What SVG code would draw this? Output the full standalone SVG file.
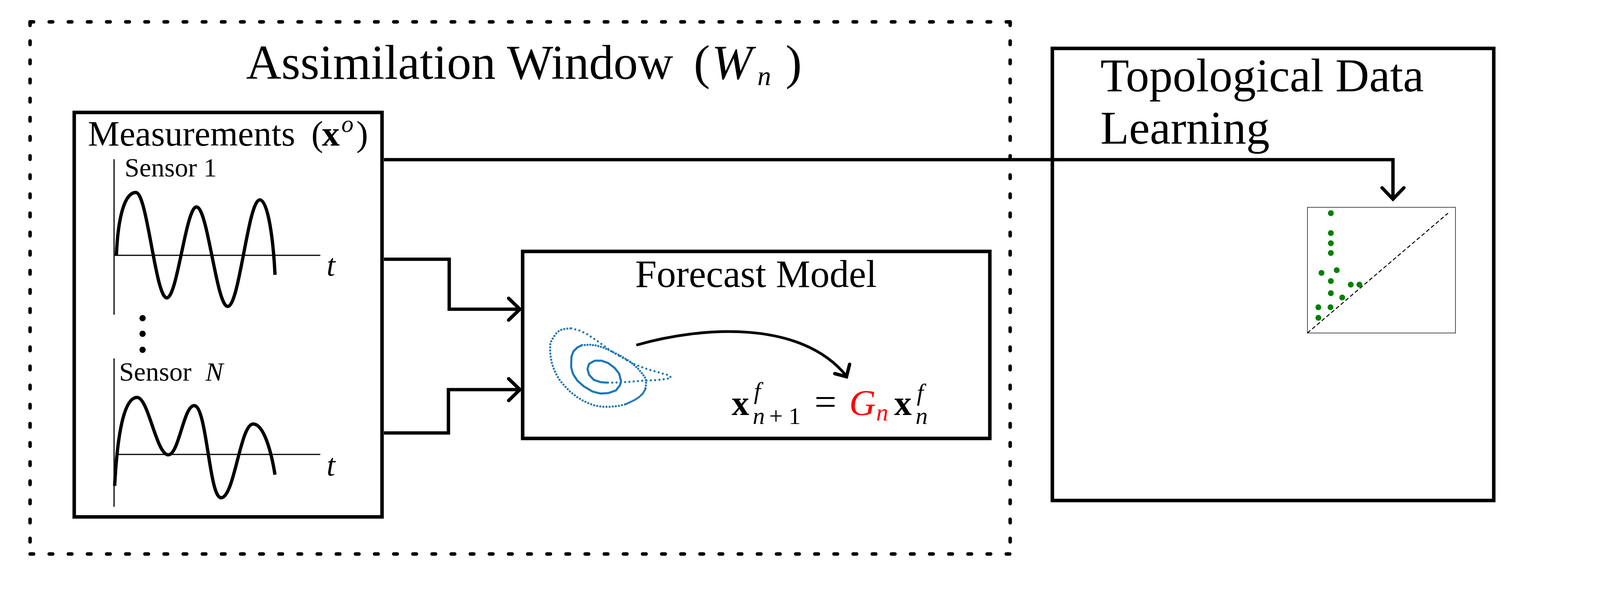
<svg xmlns="http://www.w3.org/2000/svg" width="4917" height="1542" viewBox="0 0 4917 1542">
<style>
text { font-family: "Liberation Serif", "Times New Roman", serif; fill: #000; }
.box { fill: none; stroke: #000; stroke-width: 9; }
.dotted { fill: none; stroke: #000; stroke-width: 9; stroke-linecap: round; stroke-dasharray: 9 40; }
.axis { fill: none; stroke: #000; stroke-width: 3; }
.wave { fill: none; stroke: #000; stroke-width: 8.5; stroke-linejoin: round; }
.conn { fill: none; stroke: #000; stroke-width: 8.7; }
.head { fill: none; stroke: #000; stroke-width: 8.7; stroke-linecap: round; stroke-linejoin: miter; }
.attr { fill: none; stroke: #1f77b4; stroke-width: 5.5; stroke-linecap: round; stroke-linejoin: round; }
.pt { fill: #008000; }
</style>
<rect width="4917" height="1542" fill="#fff"/>

<g id="assimilation-window">
  <line class="dotted" x1="77" y1="56" x2="2586" y2="56"/>
  <line class="dotted" x1="77" y1="56" x2="77" y2="1419"/>
  <line class="dotted" x1="2586" y1="56" x2="2586" y2="1419"/>
  <line class="dotted" x1="77" y1="1419" x2="2586" y2="1419"/>
  <text x="630" y="202" font-size="125">Assimilation Window <tspan x="1776">(</tspan><tspan x="1822" font-style="italic">W</tspan><tspan x="1939" dy="16" font-size="70" font-style="italic">n</tspan><tspan x="2011" dy="-16">)</tspan></text>
</g>

<g id="measurements">
  <rect class="box" x="190" y="288" width="788" height="1036"/>
  <text x="225" y="373" font-size="91">Measurements <tspan x="797">(</tspan><tspan x="824" font-weight="bold">x</tspan><tspan x="874" dy="-35" font-size="62" font-style="italic">o</tspan><tspan x="912" dy="35">)</tspan></text>
  <text x="319" y="452" font-size="68">Sensor 1</text>
  <line class="axis" x1="292" y1="408" x2="292" y2="806"/>
  <line class="axis" x1="293" y1="654" x2="820" y2="654"/>
  <path class="wave" d="M298,653 C302,560 318,493 348,493 C377,493 398,763 427,763 C454,763 476,530 503,530 C532,530 554,785 583,785 C613,785 635,512 665,512 C687,512 700,620 704,704"/>
  <text x="836" y="706" font-size="80" font-style="italic">t</text>
  <circle cx="365" cy="815" r="8"/>
  <circle cx="365" cy="855" r="8"/>
  <circle cx="365" cy="896" r="8"/>
  <text x="305" y="975" font-size="68">Sensor <tspan x="526" font-style="italic">N</tspan></text>
  <line class="axis" x1="292" y1="918" x2="292" y2="1298"/>
  <line class="axis" x1="296" y1="1164" x2="820" y2="1164"/>
  <path class="wave" d="M293.5,1244.5 C300,1120 316,1018 351,1018 C380,1018 400,1165 431,1165 C458,1165 470,1039 497,1039 C530,1039 535,1275 566,1275 C600,1275 615,1086 648,1086 C676,1086 695,1160 704,1216"/>
  <text x="836" y="1218" font-size="80" font-style="italic">t</text>
</g>

<g id="forecast-model">
  <rect class="box" x="1338" y="644" width="1196" height="479" stroke-width="8"/>
  <text x="1626" y="735" font-size="99">Forecast Model</text>
  <path class="attr" stroke-dasharray="0 2.5" d="M1553,980 L1538,979 L1520,973 L1508,960 L1504,945 L1508,932 L1522,924 L1540,924 L1557,930 L1573,942 L1585,957 L1590,977 L1587,987 L1577,1000 L1557,1007 L1537,1008 L1517,1003 L1495,990 L1478,975 L1467,958 L1462,940 L1463,913 L1468,900 L1478,890 L1490,884"/>
  <path class="attr" stroke-dasharray="0 7" d="M1490,884 L1510,883 L1527,885 L1547,891 L1565,900 L1580,907 L1598,917 L1615,928 L1632,943 L1645,958 L1653,970 L1654,983 L1652,997"/>
  <path class="attr" stroke-dasharray="0 5" d="M1652,997 L1645,1009 L1635,1018 L1622,1026 L1600,1036"/>
  <path class="attr" stroke-dasharray="0 8" d="M1600,1036 L1583,1040 L1560,1042 L1543,1042 L1523,1039 L1507,1033 L1492,1026 L1477,1017 L1458,1002 L1445,988 L1433,974 L1423,957 L1417,943 L1412,927 L1409,910 L1408,894 L1409,878 L1415,867 L1423,855 L1433,846 L1449,842 L1462,841"/>
  <path class="attr" stroke-dasharray="0 11" d="M1462,841 L1482,846 L1503,856 L1527,872 L1538,880 L1560,896 L1580,909 L1607,924 L1625,933 L1647,942 L1662,947 L1680,952 L1697,957 L1712,961 L1718,967 L1713,969 L1696,972 L1673,974 L1647,975 L1623,977 L1598,979 L1572,980 L1553,980"/>
  <path fill="none" stroke="#000" stroke-width="7" d="M1629,884 C1800,835 2050,820 2166,962"/>
  <polyline class="head" stroke-width="7" points="2137,957 2167,965 2175,933"/>
  <text x="1873" y="1063" font-size="90" font-weight="bold">x</text>
  <text x="1930" y="1022" font-size="62" font-style="italic">f</text>
  <text x="1927" y="1086" font-size="62"><tspan font-style="italic">n</tspan><tspan x="1969">+</tspan><tspan x="2019">1</tspan></text>
  <text x="2085" y="1063" font-size="100">=</text>
  <text x="2174" y="1063" font-size="94" font-style="italic" fill="#ff0000" style="fill:#ff0000">G</text>
  <text x="2243" y="1077" font-size="62" font-style="italic" style="fill:#ff0000">n</text>
  <text x="2289" y="1063" font-size="90" font-weight="bold">x</text>
  <text x="2347" y="1026" font-size="62" font-style="italic">f</text>
  <text x="2344" y="1086" font-size="62" font-style="italic">n</text>
</g>

<g id="topological-data-learning">
  <rect class="box" x="2694" y="124" width="1130" height="1158" stroke-width="9.5"/>
  <text x="2817" y="234" font-size="120">Topological Data</text>
  <text x="2817" y="368" font-size="120">Learning</text>
  <g id="persistence-diagram">
    <rect x="3347" y="531" width="379" height="322" fill="none" stroke="#222" stroke-width="1.6"/>
    <line x1="3347" y1="853" x2="3707" y2="546" stroke="#000" stroke-width="2.5" stroke-dasharray="10 6"/>
    <circle class="pt" cx="3407" cy="546" r="7.5"/>
    <circle class="pt" cx="3407" cy="597" r="7.5"/>
    <circle class="pt" cx="3407" cy="623" r="7.5"/>
    <circle class="pt" cx="3407" cy="648" r="7.5"/>
    <circle class="pt" cx="3383" cy="699" r="7.5"/>
    <circle class="pt" cx="3422" cy="692" r="7.5"/>
    <circle class="pt" cx="3407" cy="720" r="7.5"/>
    <circle class="pt" cx="3458" cy="729" r="7.5"/>
    <circle class="pt" cx="3480" cy="729" r="7.5"/>
    <circle class="pt" cx="3407" cy="751" r="7.5"/>
    <circle class="pt" cx="3436" cy="762" r="7.5"/>
    <circle class="pt" cx="3375" cy="787" r="7.5"/>
    <circle class="pt" cx="3406" cy="787" r="7.5"/>
    <circle class="pt" cx="3375" cy="814" r="7.5"/>
  </g>
</g>

<g id="connectors">
  <path class="conn" d="M983,409 H3566 V509"/>
  <polyline class="head" points="3538,481 3566,510 3594,481"/>
  <path class="conn" d="M983,664 H1150 V792 H1330"/>
  <polyline class="head" points="1302,764 1331,792 1302,820"/>
  <path class="conn" d="M983,1109 H1148 V998 H1330"/>
  <polyline class="head" points="1302,970 1331,998 1302,1026"/>
</g>
</svg>
